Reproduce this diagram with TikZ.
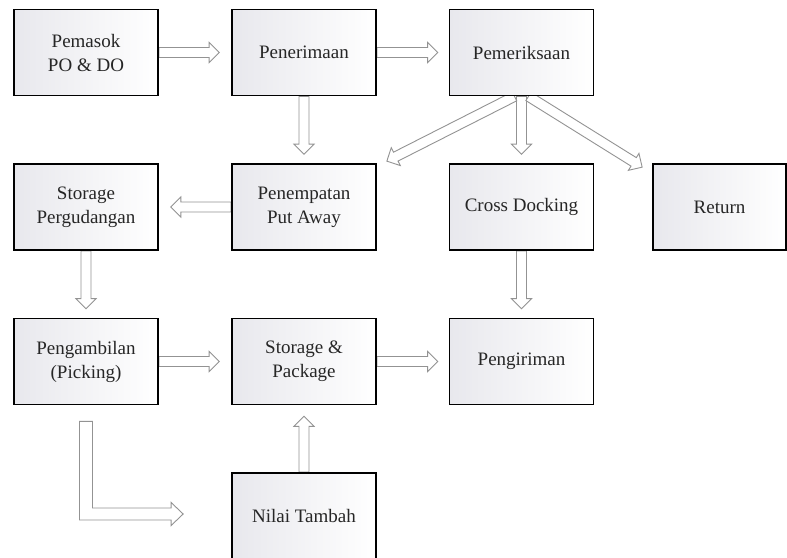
\documentclass[tikz,border=0pt]{standalone}
\usepackage{fontspec}
\setmainfont{Liberation Serif}
\usetikzlibrary{calc,backgrounds}

\definecolor{arrowgray}{HTML}{939393}
\definecolor{boxtint}{HTML}{E8E8ED}

% hollow block-arrow dimensions
\newcommand\shaftw{5pt}
\newcommand\headw{10pt}
\newcommand\headl{10pt}

\tikzset{
  stage/.style={draw=black, line width=1.7pt, left color=boxtint, right color=white,
    minimum width=144pt, minimum height=86pt, align=center, inner sep=0pt,
    font=\fontsize{19}{24}\selectfont, text=black!85},
  hollow/.style={draw=arrowgray, fill=white, line width=0.9pt, line join=miter,
    to path={let \p1=(\tikztostart), \p2=(\tikztotarget) in
      ($(\p1)!\shaftw!90:(\p2)$)
      -- ($($(\p2)!\headl!(\p1)$)!\shaftw!90:(\p2)$)
      -- ($($(\p2)!\headl!(\p1)$)!\headw!90:(\p2)$)
      -- (\p2)
      -- ($($(\p2)!\headl!(\p1)$)!\headw!-90:(\p2)$)
      -- ($($(\p2)!\headl!(\p1)$)!\shaftw!-90:(\p2)$)
      -- ($(\p1)!\shaftw!-90:(\p2)$) -- cycle}},
  hollowL/.style={draw=arrowgray, fill=white, line width=0.9pt, line join=miter},
}

\begin{document}
\begin{tikzpicture}[x=1pt, y=-1pt]
\useasboundingbox (0,0) rectangle (787,557);

% process stages
\node[stage] (pem)   at (86,52.5)    {Pemasok\\PO \& DO};
\node[stage] (pen)   at (304,52.5)   {Penerimaan};
\node[stage] (pmk)   at (521.5,52.5) {Pemeriksaan};
\node[stage] (sto)   at (86,207)     {Storage\\Pergudangan};
\node[stage] (pnp)   at (304,207)    {Penempatan\\Put Away};
\node[stage] (cd)    at (521.5,207)  {Cross Docking};
\node[stage, minimum width=133pt] (ret) at (719.5,207) {Return};
\node[stage] (pick)  at (86,361.5)   {Pengambilan\\(Picking)};
\node[stage] (sp)    at (304,361.5)  {Storage \&\\Package};
\node[stage] (kirim) at (521.5,361.5){Pengiriman};
\node[stage] (nt)    at (304,516)    {Nilai Tambah};

\coordinate (lstart) at ($(pick.south)+(0,16)$);
\coordinate (ltip)   at ($(nt.west)+(-48,-2)$);

% flow arrows, kept behind the boxes
\begin{scope}[on background layer]
\draw[hollow] (pem.east)  to ($(pen.west)+(-12,0)$);
\draw[hollow] (pen.east)  to ($(pmk.west)+(-11,0)$);
\draw[hollow] (pen.south) to ($(pnp.north)+(0,-9)$);
\draw[hollow] (pmk.south) to ($(cd.north)+(0,-9)$);
\draw[hollow] ($(pmk.south)+(-7,0)$) to ($(pnp.north east)+(10,-2)$);
\draw[hollow] ($(pmk.south)+(7,0)$)  to ($(ret.north west)+(-10,4)$);
\draw[hollow] (pnp.west)  to ($(sto.east)+(12,0)$);
\draw[hollow] (sto.south) to ($(pick.north)+(0,-9)$);
\draw[hollow] (cd.south)  to ($(kirim.north)+(0,-9)$);
\draw[hollow] (pick.east) to ($(sp.west)+(-12,0)$);
\draw[hollow] (sp.east)   to ($(kirim.west)+(-11,0)$);
\draw[hollow] (nt.north)  to ($(sp.south)+(0,11)$);
\end{scope}

% bent arrow below the picking stage
\draw[hollowL] let \p1=(lstart), \p2=(ltip) in
  (\x1-6.5pt,\y1) -- (\x1-6.5pt,\y2-6pt) -- (\x2-12pt,\y2-6pt) -- (\x2-12pt,\y2-11.5pt)
  -- (\x2,\y2) -- (\x2-12pt,\y2+11.5pt) -- (\x2-12pt,\y2+6pt) -- (\x1+6.5pt,\y2+6pt)
  -- (\x1+6.5pt,\y1) -- cycle;
\end{tikzpicture}
\end{document}
